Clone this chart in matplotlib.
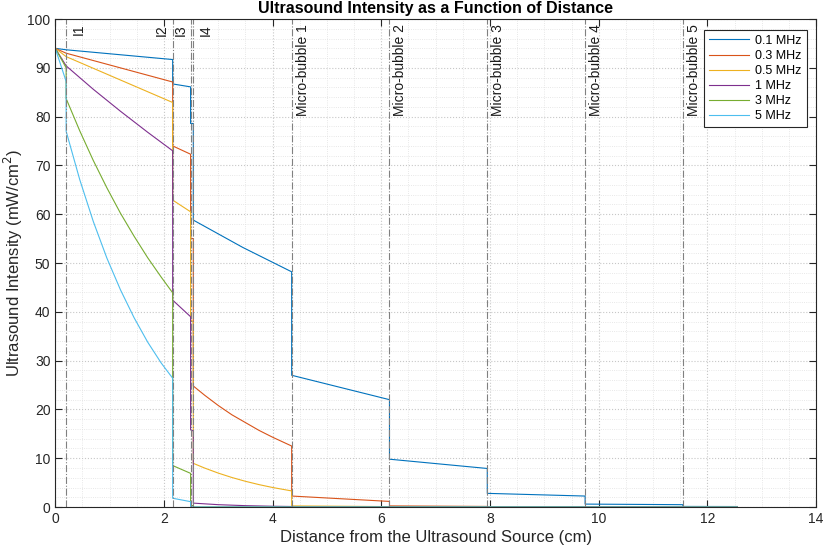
import numpy as np
import matplotlib
matplotlib.use('Agg')
import matplotlib.pyplot as plt
from matplotlib.ticker import MultipleLocator

plt.rcParams['font.family'] = ['Liberation Sans', 'DejaVu Sans']

# boundaries (cm)
interface_x = [0.2, 2.16, 2.49, 2.54]
interface_labels = ['I1', 'I2', 'I3', 'I4']
interface_label_x = [0.44, 1.96, 2.31, 2.76]
bubble_x = [4.35, 6.15, 7.95, 9.75, 11.55]
bubble_labels = ['Micro-bubble 1', 'Micro-bubble 2', 'Micro-bubble 3',
                 'Micro-bubble 4', 'Micro-bubble 5']

freq_labels = ['0.1 MHz', '0.3 MHz', '0.5 MHz', '1 MHz', '3 MHz', '5 MHz']

# 0.1 MHz
x_01 = [0, 0.2, 2.16, 2.16, 2.49, 2.49, 2.54, 2.54, 3.45, 4.35, 4.35, 6.15, 6.15,
        7.95, 7.95, 9.75, 9.75, 11.55, 11.55, 12.55]
y_01 = [94, 93.7, 91.7, 86.7, 86.1, 78.6, 78.6, 58.8, 53.2, 48.2, 27.0, 22.0, 9.8,
        7.9, 2.8, 2.25, 0.6, 0.48, 0.12, 0.1]

# 0.3 MHz
x_03 = [0, 0.2, 2.16, 2.16, 2.49, 2.49, 2.54, 2.54, 2.75, 3.0, 3.25, 3.5, 3.75, 4.0,
        4.35, 4.35, 6.15, 6.15, 7.95, 7.95, 9.75, 9.75, 11.55, 11.55, 12.55]
y_03 = [94, 93.0, 87.1, 74.0, 72.3, 55.1, 55.0, 24.8, 22.9, 20.8, 18.9, 17.3, 15.7, 14.3,
        12.5, 2.25, 1.15, 0.23, 0.12, 0.03, 0.015, 0.004, 0.002, 0.0, 0.0]

# 0.5 MHz
x_05 = [0, 0.2, 2.16, 2.16, 2.49, 2.49, 2.54, 2.54, 2.75, 3.0, 3.25, 3.5, 3.75, 4.0,
        4.35, 4.35, 6.15, 6.15, 7.95, 7.95, 9.75, 9.75, 11.55, 11.55, 12.55]
y_05 = [94, 92.3, 82.9, 62.9, 60.5, 38.3, 38.0, 8.95, 7.98, 6.95, 6.05, 5.27, 4.59, 4.0,
        3.3, 0.23, 0.085, 0.01, 0.005, 0.0, 0.0, 0.0, 0.0, 0.0, 0.0]

# 1 MHz
x_1 = [0, 0.2, 0.7, 1.2, 1.7, 2.16, 2.16, 2.49, 2.49, 2.54, 2.54, 3.0, 3.5, 4.0,
       4.35, 4.35, 12.55]
y_1 = [94, 90.4, 85.6, 81.1, 76.8, 73.0, 42.4, 39.0, 15.8, 15.6, 0.8, 0.48, 0.28, 0.16,
       0.11, 0.01, 0.0]

# 3 MHz
x_3 = [0, 0.2, 0.2, 0.45, 0.7, 0.95, 1.2, 1.45, 1.7, 1.95, 2.16, 2.16, 2.49, 2.49,
       2.54, 2.54, 12.55]
y_3 = [94, 90.0, 83.7, 77.1, 71.0, 65.4, 60.2, 55.5, 51.1, 47.1, 43.9, 8.5, 6.9, 0.3,
       0.3, 0.01, 0.0]

# 5 MHz
x_5 = [0, 0.2, 0.2, 0.45, 0.7, 0.95, 1.2, 1.45, 1.7, 1.95, 2.16, 2.16, 2.49, 2.49,
       2.54, 2.54, 12.55]
y_5 = [94, 87.2, 77.0, 67.1, 58.5, 51.0, 44.5, 38.8, 33.8, 29.5, 26.4, 1.8, 1.1, 0.05,
       0.05, 0.0, 0.0]

colors = ['#0072BD', '#D95319', '#EDB120', '#7E2F8E', '#77AC30', '#4DBEEE']
all_x = [x_01, x_03, x_05, x_1, x_3, x_5]
all_y = [y_01, y_03, y_05, y_1, y_3, y_5]

fig = plt.figure(figsize=(8.3, 5.6), dpi=100)
ax = fig.add_axes([0.0666, 0.0946, 0.9166, 0.8714])

for xs, ys, c, lab in zip(all_x, all_y, colors, freq_labels):
    ax.plot(xs, ys, color=c, lw=0.8, label=lab)

for xv in interface_x + bubble_x:
    ax.axvline(xv, color='0.5', ls='-.', lw=0.8)

for xv, lab in zip(interface_label_x, interface_labels):
    ax.text(xv, 99, lab, rotation=90, ha='center', va='top', fontsize=10, color='0.1')
for xv, lab in zip(bubble_x, bubble_labels):
    ax.text(xv + 0.2, 99, lab, rotation=90, ha='center', va='top', fontsize=10, color='0.1')

ax.set_xlim(0, 14)
ax.set_ylim(0, 100)
ax.xaxis.set_major_locator(MultipleLocator(2))
ax.xaxis.set_minor_locator(MultipleLocator(0.5))
ax.yaxis.set_major_locator(MultipleLocator(10))
ax.yaxis.set_minor_locator(MultipleLocator(2))
ax.grid(which='major', ls=':', color='0.78', lw=0.8)
ax.grid(which='minor', ls=':', color='0.88', lw=0.6)
ax.tick_params(which='both', direction='in', top=True, right=True, colors='0.15',
               labelsize=10)
ax.tick_params(which='major', length=5)
ax.tick_params(which='minor', length=0)
for s in ax.spines.values():
    s.set_color('0.15')
    s.set_linewidth(0.8)

ax.set_xlabel('Distance from the Ultrasound Source (cm)', fontsize=12, color='0.15', labelpad=3)
ax.set_ylabel('Ultrasound Intensity (mW/cm$^2$)', fontsize=12, color='0.15', labelpad=2)
ax.set_title('Ultrasound Intensity as a Function of Distance', fontsize=11.5,
             fontweight='bold', pad=4)

leg = ax.legend(loc='upper right', bbox_to_anchor=(0.988, 0.978), borderaxespad=0,
                fontsize=9, fancybox=False, framealpha=1, handlelength=3.2,
                labelspacing=0.25, borderpad=0.4, handletextpad=0.5)
leg.get_frame().set_edgecolor('0.15')
leg.get_frame().set_linewidth(0.8)

fig.savefig('out.png', dpi=100)
